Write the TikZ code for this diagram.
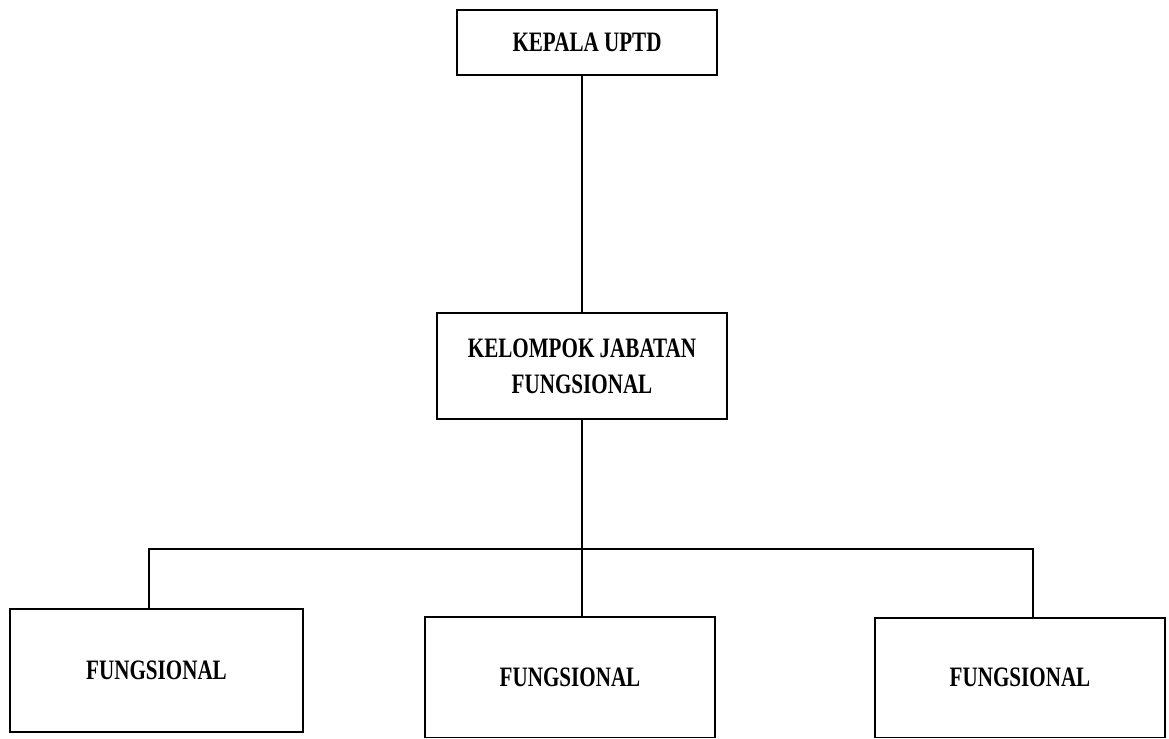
\documentclass[tikz,border=0pt]{standalone}
\usepackage{fontspec}
\setmainfont{Liberation Serif}[FakeStretch=0.75]
\usepackage{tikz}
\tikzstyle{unit}=[draw,line width=1pt,align=center,inner sep=0pt,font=\bfseries\fontsize{16}{20.5}\selectfont]

\begin{document}
\begin{tikzpicture}
\useasboundingbox (0,0) rectangle (23.38,-14.78);
\node[unit,minimum width=5.2cm,minimum height=1.3cm]   (kepala) at (11.74, -0.85)  {KEPALA UPTD};
\node[unit,minimum width=5.8cm,minimum height=2.12cm]  (kelompok) at (11.64, -7.32) {KELOMPOK JABATAN\\FUNGSIONAL};
\node[unit,minimum width=5.86cm,minimum height=2.46cm] (fung1) at (3.13, -13.41)  {FUNGSIONAL};
\node[unit,minimum width=5.8cm,minimum height=2.41cm]  (fung2) at (11.40, -13.545) {FUNGSIONAL};
\node[unit,minimum width=5.8cm,minimum height=2.39cm]  (fung3) at (20.40, -13.555) {FUNGSIONAL};
\coordinate (bus) at (11.64, -10.98);

\draw[line width=1pt] (kelompok.north) -- (kelompok.north |- kepala.south);
\draw[line width=1pt] (kelompok.south) -- (kelompok.south |- fung2.north);
\draw[line width=1pt] ([xshift=-0.15cm]fung1.north) |- (bus) -| ([xshift=0.26cm]fung3.north);

\end{tikzpicture}
\end{document}
